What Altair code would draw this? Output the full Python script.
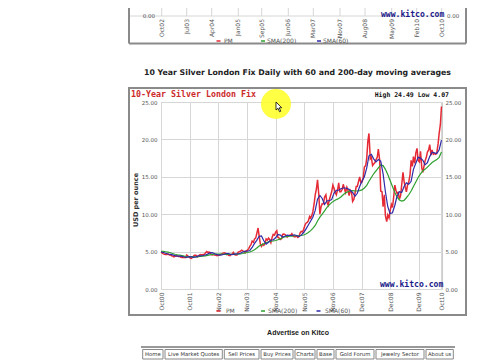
import altair as alt
import pandas as pd

# ---------------- data ----------------
# London PM fix, sampled on the 1st and 15th of each month, 15 Oct 2000 .. 15 Oct 2010
pm_values = [
    # 2000 (Oct15 .. Dec15)
    4.95, 4.80, 4.70, 4.65, 4.60,
    # 2001
    4.60, 4.70, 4.55, 4.55, 4.45, 4.40, 4.30, 4.38, 4.40, 4.45, 4.35, 4.35,
    4.25, 4.22, 4.20, 4.25, 4.20, 4.55, 4.40, 4.25, 4.15, 4.10, 4.25, 4.45,
    # 2002
    4.55, 4.50, 4.30, 4.45, 4.55, 4.60, 4.55, 4.60, 4.60, 4.80, 5.00, 4.90,
    4.95, 4.90, 4.60, 4.55, 4.60, 4.55, 4.50, 4.45, 4.50, 4.55, 4.60, 4.70,
    # 2003
    4.80, 4.85, 4.80, 4.60, 4.65, 4.50, 4.45, 4.60, 4.70, 4.90, 4.60, 4.55,
    4.55, 4.90, 5.00, 5.05, 5.20, 5.10, 5.00, 4.85, 5.10, 5.20, 5.40, 5.70,
    # 2004
    5.95, 6.40, 6.25, 6.70, 6.80, 7.40, 8.15, 7.10, 6.00, 5.70, 6.00, 5.85,
    6.10, 6.70, 6.55, 6.80, 6.60, 6.20, 6.90, 7.30, 7.20, 7.60, 7.80, 6.90,
    # 2005
    6.80, 6.60, 6.70, 7.30, 7.35, 7.30, 7.15, 6.95, 7.10, 7.20, 7.20, 7.40,
    7.10, 7.00, 7.00, 7.10, 6.90, 7.00, 7.50, 7.70, 7.65, 7.95, 8.50, 8.80,
    # 2006
    8.90, 9.10, 9.70, 9.50, 9.80, 10.30, 11.40, 12.60, 13.40, 14.60, 12.60, 10.00,
    11.00, 11.40, 11.40, 12.30, 12.60, 11.60, 11.20, 11.90, 12.50, 13.00, 13.90, 13.50,
    # 2007
    12.90, 12.60, 13.30, 14.20, 13.00, 13.00, 13.30, 14.00, 13.40, 12.90, 13.60, 13.20,
    12.50, 13.20, 12.90, 11.70, 12.00, 12.80, 13.70, 13.70, 14.40, 15.00, 14.20, 14.30,
    # 2008
    14.90, 16.30, 16.50, 17.50, 19.80, 20.80, 17.40, 17.60, 16.50, 16.70, 16.90, 17.30,
    17.60, 18.70, 17.30, 13.10, 13.00, 11.00, 12.60, 9.80, 9.00, 9.90, 9.50, 10.40,
    # 2009
    11.30, 10.90, 12.40, 13.90, 13.20, 12.80, 12.90, 12.00, 12.50, 13.90, 15.60, 14.40,
    13.60, 13.00, 14.00, 14.30, 15.30, 17.20, 16.40, 17.70, 16.80, 18.20, 18.80, 17.20,
    # 2010 (Jan1 .. Oct15)
    17.00, 18.40, 16.20, 15.60, 16.40, 17.10, 17.60, 18.30, 18.60, 19.30, 17.90, 18.60,
    18.00, 18.10, 18.00, 18.20, 19.40, 20.80, 22.00, 24.40,
]

# moving averages, one value per month (15th), Oct 2000 .. Oct 2010
sma60_values = [
    4.95, 4.88, 4.78,
    4.68, 4.64, 4.57, 4.47, 4.39, 4.39, 4.35, 4.28, 4.24, 4.32, 4.30, 4.22,
    4.30, 4.42, 4.44, 4.48, 4.55, 4.66, 4.83, 4.86, 4.72, 4.60, 4.53, 4.55,
    4.64, 4.74, 4.72, 4.58, 4.62, 4.70, 4.68, 4.78, 4.95, 5.08, 5.05, 5.15,
    5.55, 6.10, 6.50, 7.05, 7.10, 6.45, 6.00, 6.25, 6.55, 6.55, 6.85, 7.30,
    7.20, 6.95, 7.05, 7.20, 7.15, 7.15, 7.25, 7.15, 7.00, 7.20, 7.55, 8.00,
    8.55, 9.10, 9.60, 10.50, 12.00, 12.50, 12.10, 11.30, 11.80, 11.80, 11.95, 12.80,
    13.20, 13.20, 13.40, 13.50, 13.50, 13.40, 13.20, 12.90, 12.40, 12.80, 13.70, 14.40,
    15.00, 16.20, 17.80, 18.00, 17.40, 17.00, 17.30, 17.10, 15.40, 13.00, 11.00, 10.10,
    10.20, 11.20, 12.40, 13.00, 12.90, 13.70, 14.20, 14.00, 14.40, 16.00, 16.80, 17.60,
    17.50, 17.20, 16.60, 16.90, 17.70, 18.30, 18.20, 18.10, 18.60, 19.90,
]
sma200_values = [
    5.05, 5.02, 4.98,
    4.92, 4.85, 4.75, 4.65, 4.58, 4.52, 4.46, 4.40, 4.36, 4.34, 4.32, 4.30,
    4.30, 4.32, 4.36, 4.40, 4.44, 4.50, 4.57, 4.62, 4.65, 4.66, 4.66, 4.65,
    4.64, 4.63, 4.62, 4.62, 4.63, 4.65, 4.66, 4.70, 4.75, 4.82, 4.88, 4.95,
    5.08, 5.25, 5.48, 5.75, 5.90, 6.05, 6.18, 6.30, 6.38, 6.42, 6.48, 6.58,
    6.70, 6.85, 6.98, 7.02, 7.05, 7.08, 7.12, 7.12, 7.12, 7.15, 7.22, 7.35,
    7.55, 7.80, 8.10, 8.50, 9.10, 9.60, 10.00, 10.45, 10.90, 11.25, 11.55, 11.75,
    11.95, 12.10, 12.30, 12.60, 12.85, 13.00, 13.15, 13.15, 13.10, 13.10, 13.15, 13.25,
    13.50, 13.85, 14.40, 14.90, 15.40, 15.80, 16.20, 16.60, 16.50, 16.00, 15.30, 14.50,
    13.70, 12.90, 12.30, 11.90, 11.75, 11.85, 12.20, 12.60, 13.10, 13.70, 14.30, 14.90,
    15.40, 15.80, 16.00, 16.30, 16.60, 16.90, 17.10, 17.30, 17.60, 18.30,
]

y_ticks = [0, 5, 10, 15, 20, 25]
x_tick_dates = ["2000-10-15", "2001-10-23", "2002-11-01", "2003-11-08", "2004-11-15",
                "2005-11-23", "2006-11-30", "2007-12-09", "2008-12-16", "2009-12-24",
                "2010-10-15"]
x_domain = ["2000-10-15", "2010-10-22"]

heading = "10 Year Silver London Fix Daily with 60 and 200-day moving averages"
chart_title = "10-Year Silver London Fix"
high_low = "High 24.49 Low 4.07"
legend_names = ["PM", "SMA(200)", "SMA(60)"]
series_colors = ["#e62a35", "#2ea02e", "#2e2aa8"]
prev_chart_labels = ["Oct02", "Jul03", "Apr04", "Jan05", "Sep05", "Jun06",
                     "Mar07", "Nov07", "Aug08", "May09", "Feb10", "Oct10"]
nav_items = ["Home", "Live Market Quotes", "Sell Prices", "Buy Prices", "Charts",
             "Base", "Gold Forum", "Jewelry Sector", "About us"]

# ---------------- build ----------------
def dt(s):
    t = pd.Timestamp(s)
    return alt.DateTime(year=t.year, month=t.month, date=t.day)

pm_df = pd.DataFrame({
    "date": pd.date_range("2000-10-15", periods=len(pm_values), freq="SMS"),
    "pm": pm_values,
})
sma_df = pd.DataFrame({
    "date": pd.date_range("2000-10-15", periods=len(sma60_values), freq=pd.DateOffset(months=1)),
    "sma60": sma60_values,
    "sma200": sma200_values,
})

GRID = "#d6d6d6"
LAB = "#555555"

x_enc = alt.X(
    "date:T",
    scale=alt.Scale(domain=[dt(d) for d in x_domain]),
    axis=alt.Axis(values=[dt(d) for d in x_tick_dates], format="%b%y", labelAngle=-90,
                  labelFontSize=6, labelColor=LAB, labelFont="DejaVu Sans",
                  grid=True, gridColor=GRID, domain=False, ticks=False,
                  labelPadding=3, labelFlush=False, labelOverlap=False, title=None),
)
y_scale = alt.Scale(domain=[0, 25], nice=False)
y_axis_left = alt.Axis(values=y_ticks, format=".2f", labelFontSize=5.5, labelColor=LAB,
                       labelFont="DejaVu Sans", grid=True, gridColor=GRID, domain=False,
                       ticks=False, title=None, labelPadding=4)
y_axis_right = alt.Axis(values=y_ticks, format=".2f", labelFontSize=5.5, labelColor=LAB,
                        labelFont="DejaVu Sans", grid=False, domain=False, ticks=False,
                        title=None, labelPadding=3, orient="right")

pm_line = alt.Chart(pm_df).mark_line(color=series_colors[0], strokeWidth=1.5).encode(
    x=x_enc, y=alt.Y("pm:Q", scale=y_scale, axis=y_axis_left))
sma200_line = alt.Chart(sma_df).mark_line(color=series_colors[1], strokeWidth=1.2).encode(
    x=x_enc, y=alt.Y("sma200:Q", scale=y_scale, axis=None))
sma60_line = alt.Chart(sma_df).mark_line(color=series_colors[2], strokeWidth=1.2).encode(
    x=x_enc, y=alt.Y("sma60:Q", scale=y_scale, axis=y_axis_right))

one = pd.DataFrame({"t": [""]})


def text(t, x, y, size=6, color="#333333", weight="normal", font="DejaVu Sans",
         align="left", angle=0):
    return alt.Chart(pd.DataFrame({"t": [t]})).mark_text(
        font=font, fontSize=size, color=color, fontWeight=weight, align=align,
        angle=angle, baseline="middle").encode(x=alt.value(x), y=alt.value(y), text="t:N")


def rule(x1, y1, x2, y2, color, width=1):
    return alt.Chart(one).mark_rule(color=color, strokeWidth=width).encode(
        x=alt.value(x1), x2=alt.value(x2), y=alt.value(y1), y2=alt.value(y2))


def box(x1, y1, x2, y2, color, width=1):
    return alt.Chart(one).mark_rect(fill="transparent", stroke=color, strokeWidth=width).encode(
        x=alt.value(x1), x2=alt.value(x2), y=alt.value(y1), y2=alt.value(y2))


layers = []
# previous (cut-off) chart at the top of the page
prev_x = [0.7, 25.7, 50.7, 77.3, 100.7, 127.3, 152.3, 179, 204, 230.7, 255.7, 280.7]
for px in prev_x:
    layers.append(rule(px, -94, px, -86, GRID))
layers.append(rule(-32, -86, 281, -86, GRID))
layers.append(rule(-32, -94, -32, -58.5, "#8a8a8a", 2))
layers.append(rule(305, -94, 305, -58.5, "#8a8a8a", 2))
layers.append(rule(-32, -58.5, 305, -58.5, "#8a8a8a", 2))
layers.append(text("0.00", -6, -86, 5.5, LAB, align="right"))
layers.append(text("0.00", 286, -86, 5.5, LAB))
for px, lab in zip(prev_x, prev_chart_labels):
    layers.append(text(lab, px, -83, 6, LAB, align="right", angle=270))
layers.append(text("www.kitco.com", 220, -87, 8.1, "#1a1a8a", "bold", "DejaVu Sans Mono"))
for dx, tx, name, col in zip([55.5, 100, 156], [63, 106, 162], legend_names, series_colors):
    layers.append(rule(dx, -61, dx + 4, -61, col, 1.5))
    layers.append(text(name, tx, -61, 6, LAB))

# heading
layers.append(text(heading, 136.5, -29.5, 7.8, "#222222", "bold", align="center"))

# main chart frame and texts
layers.append(box(-32, -14, 305, 213, "#8a8a8a", 2))
layers += [pm_line, sma200_line, sma60_line]
layers.append(text(chart_title, -30, -7, 8.3, "#cc2a2a", "bold", "DejaVu Sans Mono"))
layers.append(text(high_low, 288, -7, 6.5, "#111111", "bold", "DejaVu Sans Mono", align="right"))
layers.append(text("USD per ounce", -25, 98, 6.5, "#333333", "bold", align="center", angle=270))
layers.append(text("www.kitco.com", 219, 183, 8.1, "#1a1a8a", "bold", "DejaVu Sans Mono"))
for dx, tx, name, col in zip([55.5, 100, 155.5], [65, 107, 164], legend_names, series_colors):
    layers.append(rule(dx, 209, dx + 4, 209, col, 1.5))
    layers.append(text(name, tx, 209, 6, LAB))

# page footer
layers.append(text("Advertise on Kitco", 137, 230.5, 7, "#222222", "bold",
                   "Liberation Sans", align="center"))
layers.append(rule(-20, 245, 294, 245, "#999999", 2))
seps = [-19.3, 3, 62.3, 99, 133, 155, 174, 214, 264, 293.3]
for i, name in enumerate(nav_items):
    x1, x2 = seps[i] + 1, seps[i + 1] - 1
    layers.append(box(x1, 247.5, x2, 257, "#888888", 1))
    layers.append(text(name, (x1 + x2) / 2, 252.3, 5.3, "#333333", align="center"))

# yellow cursor highlight from the screen capture
layers.append(alt.Chart(one).mark_circle(color="#ffff22", opacity=0.85, size=900).encode(
    x=alt.value(115), y=alt.value(2)))
layers.append(alt.Chart(one).mark_point(
    shape="M-0.6,-1 L-0.6,0.6 L-0.2,0.25 L0.1,0.95 L0.35,0.85 L0.05,0.15 L0.55,0.15 Z",
    filled=True, fill="white", stroke="black", strokeWidth=0.8, opacity=1, size=100).encode(
    x=alt.value(118), y=alt.value(5)))

chart = alt.layer(*layers).properties(
    width=281, height=187,
    autosize=alt.AutoSizeParams(type="none"),
    padding={"left": 153, "top": 94, "right": 30, "bottom": 71},
    background="white",
).resolve_axis(y="independent").configure_view(stroke="#cccccc")

chart.save("out.html", embed_options={"renderer": "svg", "actions": False})
